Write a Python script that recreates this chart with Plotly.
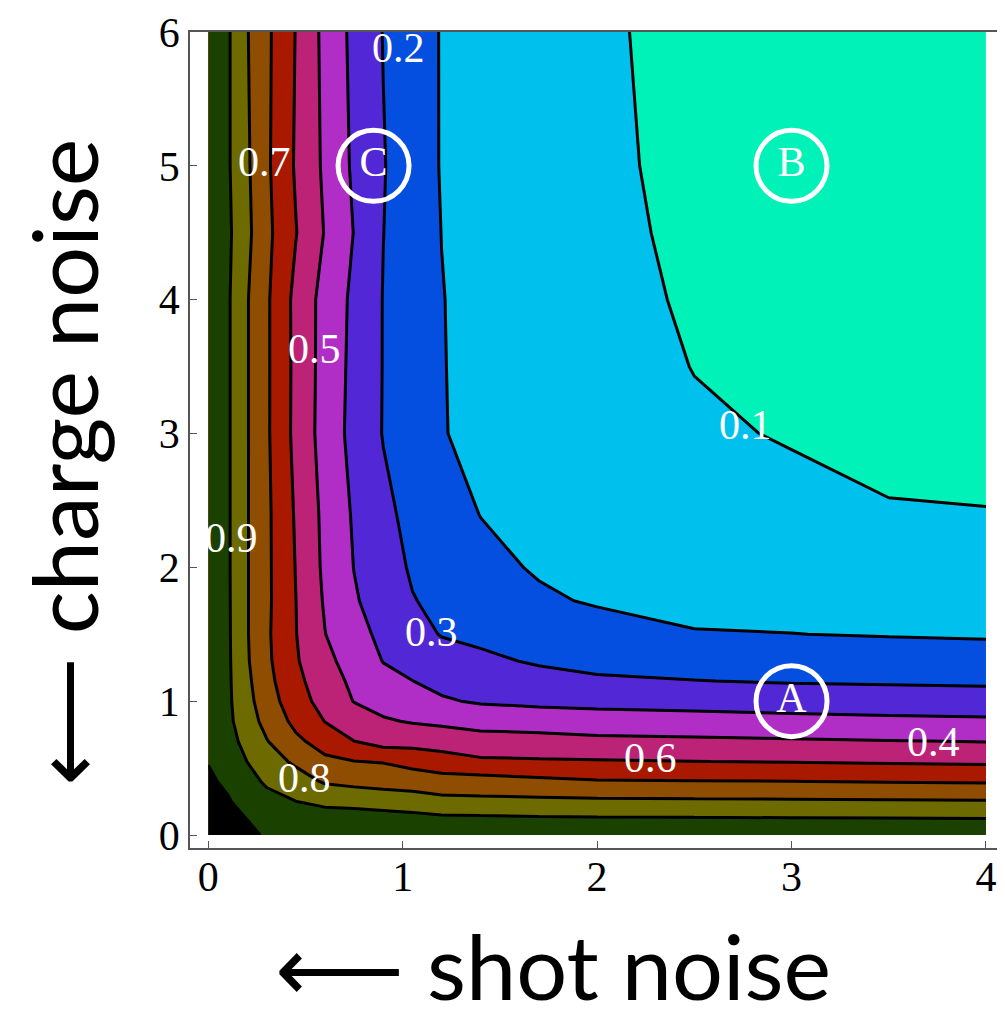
import plotly.graph_objects as go

# grid (shot noise along x, charge noise along y)
x_vals = [0, 0.1, 0.2, 0.3, 0.45, 0.6, 0.75, 0.9, 1.05, 1.2, 1.4, 1.7, 2.0, 2.5, 3.0, 3.5, 4.0]
y_vals = [0, 0.125, 0.25, 0.4, 0.55, 0.7, 0.85, 1.0, 1.15, 1.3, 1.5, 1.75, 2.0, 2.4, 3.0, 3.5, 4.0, 4.5, 5.0, 6.0]

# z values, one list per x column (bottom -> top)
z_x0_00 = [1.06, 1.045, 1.03, 1.013, 0.997, 0.99, 0.99, 0.99, 0.99, 0.99, 0.99, 0.99, 0.99, 0.99, 0.99, 0.99, 0.99, 0.99, 0.99, 0.99]
z_x0_10 = [1.04, 1.025, 1.008, 0.985, 0.96, 0.935, 0.922, 0.918, 0.917, 0.916, 0.915, 0.914, 0.913, 0.913, 0.913, 0.913, 0.913, 0.919, 0.912, 0.913]
z_x0_20 = [1.02, 0.998, 0.965, 0.935, 0.899, 0.87, 0.845, 0.83, 0.82, 0.81, 0.806, 0.806, 0.806, 0.806, 0.806, 0.806, 0.806, 0.822, 0.814, 0.805]
z_x0_30 = [0.99, 0.975, 0.935, 0.885, 0.84, 0.805, 0.77, 0.745, 0.73, 0.72, 0.716, 0.72, 0.72, 0.72, 0.715, 0.715, 0.715, 0.725, 0.717, 0.72]
z_x0_45 = [0.99, 0.96, 0.901, 0.84, 0.785, 0.72, 0.675, 0.645, 0.625, 0.61, 0.603, 0.601, 0.597, 0.59, 0.575, 0.577, 0.575, 0.604, 0.59, 0.597]
z_x0_60 = [0.99, 0.95, 0.875, 0.79, 0.72, 0.66, 0.598, 0.562, 0.545, 0.525, 0.502, 0.49, 0.481, 0.476, 0.46, 0.463, 0.465, 0.495, 0.483, 0.474]
z_x0_75 = [0.99, 0.945, 0.868, 0.775, 0.702, 0.601, 0.55, 0.497, 0.48, 0.46, 0.43, 0.41, 0.398, 0.389, 0.37, 0.375, 0.38, 0.397, 0.384, 0.375]
z_x0_90 = [0.99, 0.94, 0.855, 0.765, 0.694, 0.56, 0.51, 0.466, 0.43, 0.397, 0.38, 0.354, 0.338, 0.32, 0.296, 0.297, 0.297, 0.301, 0.305, 0.297]
z_x1_05 = [0.99, 0.93, 0.845, 0.757, 0.665, 0.566, 0.493, 0.44, 0.401, 0.37, 0.335, 0.304, 0.29, 0.276, 0.25, 0.25, 0.25, 0.25, 0.247, 0.245]
z_x1_20 = [0.99, 0.918, 0.829, 0.739, 0.643, 0.555, 0.482, 0.41, 0.375, 0.345, 0.295, 0.28, 0.263, 0.243, 0.205, 0.204, 0.203, 0.199, 0.195, 0.195]
z_x1_40 = [0.99, 0.915, 0.823, 0.74, 0.615, 0.54, 0.463, 0.39, 0.35, 0.318, 0.28, 0.25, 0.228, 0.198, 0.175, 0.172, 0.17, 0.168, 0.166, 0.165]
z_x1_70 = [0.99, 0.91, 0.822, 0.722, 0.61, 0.534, 0.455, 0.378, 0.333, 0.29, 0.262, 0.215, 0.19, 0.165, 0.148, 0.143, 0.14, 0.138, 0.136, 0.135]
z_x2_00 = [0.99, 0.907, 0.818, 0.707, 0.607, 0.524, 0.443, 0.372, 0.314, 0.272, 0.245, 0.19, 0.17, 0.145, 0.125, 0.118, 0.113, 0.11, 0.107, 0.105]
z_x2_50 = [0.99, 0.905, 0.815, 0.704, 0.601, 0.518, 0.435, 0.366, 0.302, 0.262, 0.205, 0.175, 0.152, 0.125, 0.106, 0.099, 0.095, 0.092, 0.091, 0.09]
z_x3_00 = [0.99, 0.903, 0.813, 0.701, 0.595, 0.511, 0.428, 0.356, 0.293, 0.254, 0.201, 0.175, 0.15, 0.112, 0.097, 0.088, 0.085, 0.084, 0.083, 0.082]
z_x3_50 = [0.99, 0.901, 0.81, 0.696, 0.589, 0.504, 0.42, 0.35, 0.289, 0.248, 0.195, 0.168, 0.142, 0.102, 0.092, 0.085, 0.08, 0.078, 0.076, 0.075]
z_x4_00 = [0.99, 0.899, 0.807, 0.692, 0.584, 0.497, 0.415, 0.344, 0.285, 0.243, 0.19, 0.16, 0.135, 0.101, 0.09, 0.083, 0.078, 0.075, 0.072, 0.07]

# contour levels and band colours (lowest band first)
level_start, level_end, level_step = 0.1, 1.0, 0.1
band_colors = ["#00F2B8", "#00C1EE", "#054FE0", "#5227D6", "#B02DC6", "#BC2276",
               "#A81900", "#8E4D00", "#6D6A00", "#1A4100", "#000000"]

# contour labels (text, x, y)
label_texts = ["0.2", "0.7", "0.5", "0.9", "0.3", "0.1", "0.8", "0.6", "0.4"]
label_x = [0.976, 0.291, 0.544, 0.117, 1.148, 2.761, 0.497, 2.272, 3.73]
label_y = [5.884, 5.029, 3.63, 2.223, 1.517, 3.064, 0.426, 0.575, 0.695]

# marked points
point_names = ["C", "B", "A"]
point_x = [0.85, 3.0, 3.0]
point_y = [5.0, 5.0, 1.0]

x_ticks = [0, 1, 2, 3, 4]
y_ticks = [0, 1, 2, 3, 4, 5, 6]

columns = [z_x0_00, z_x0_10, z_x0_20, z_x0_30, z_x0_45, z_x0_60, z_x0_75, z_x0_90,
           z_x1_05, z_x1_20, z_x1_40, z_x1_70, z_x2_00, z_x2_50, z_x3_00, z_x3_50, z_x4_00]
z = [list(row) for row in zip(*columns)]

# stepwise colour scale: one flat step per band
n = len(band_colors)
colorscale = []
for k, c in enumerate(band_colors):
    lo = 0.0 if k == 0 else (k - 0.5) / (n - 1)
    hi = 1.0 if k == n - 1 else (k + 0.5) / (n - 1)
    colorscale.append([lo, c])
    colorscale.append([hi, c])

fig = go.Figure()
fig.add_trace(go.Contour(
    x=x_vals, y=y_vals, z=z,
    contours=dict(start=level_start, end=level_end, size=level_step, coloring="fill"),
    colorscale=colorscale, showscale=False,
    line=dict(color="black", width=3, smoothing=0),
    hoverinfo="skip",
))

fig.add_trace(go.Scatter(
    x=point_x, y=point_y, mode="markers+text", text=point_names,
    textposition="middle center",
    textfont=dict(family="Liberation Serif", size=42, color="white"),
    marker=dict(symbol="circle-open", size=71, color="white", line=dict(width=5, color="white")),
    hoverinfo="skip", showlegend=False,
))

serif = "Liberation Serif"
for t, lx, ly in zip(label_texts, label_x, label_y):
    fig.add_annotation(x=lx, y=ly, xref="x", yref="y", text=t, showarrow=False,
                       font=dict(family=serif, size=42, color="white"),
                       xanchor="center", yanchor="middle")

title_font = dict(family="Lato", size=90, color="black")
fig.add_annotation(x=0.4448, y=-0.1434, xref="paper", yref="paper", text="⟵ shot noise",
                   showarrow=False, font=title_font, xanchor="center", yanchor="middle",
                   borderpad=0)
fig.add_annotation(x=-0.1555, y=0.473, xref="paper", yref="paper", text="⟵ charge noise",
                   showarrow=False, font=title_font, textangle=-90,
                   xanchor="center", yanchor="middle", borderpad=0)

axis_common = dict(showgrid=False, zeroline=False, showline=True, linecolor="#555555",
                   linewidth=1.5, ticks="inside", ticklen=7, tickwidth=1.2,
                   tickcolor="#555555", tickfont=dict(family=serif, size=42, color="black"))
fig.update_xaxes(range=[-0.0941, 4.098], tickvals=x_ticks, mirror=True,
                 ticklabelstandoff=-9, **axis_common)
fig.update_yaxes(range=[-0.097, 6.0], tickvals=y_ticks, **axis_common)

# the page body adds an 8px margin, so the figure is 8px smaller on each axis
fig.update_layout(
    width=997, height=1012,
    margin=dict(l=182, r=0, t=24, b=172),
    paper_bgcolor="white", plot_bgcolor="white",
    showlegend=False,
)

fig.write_html("out.html")
